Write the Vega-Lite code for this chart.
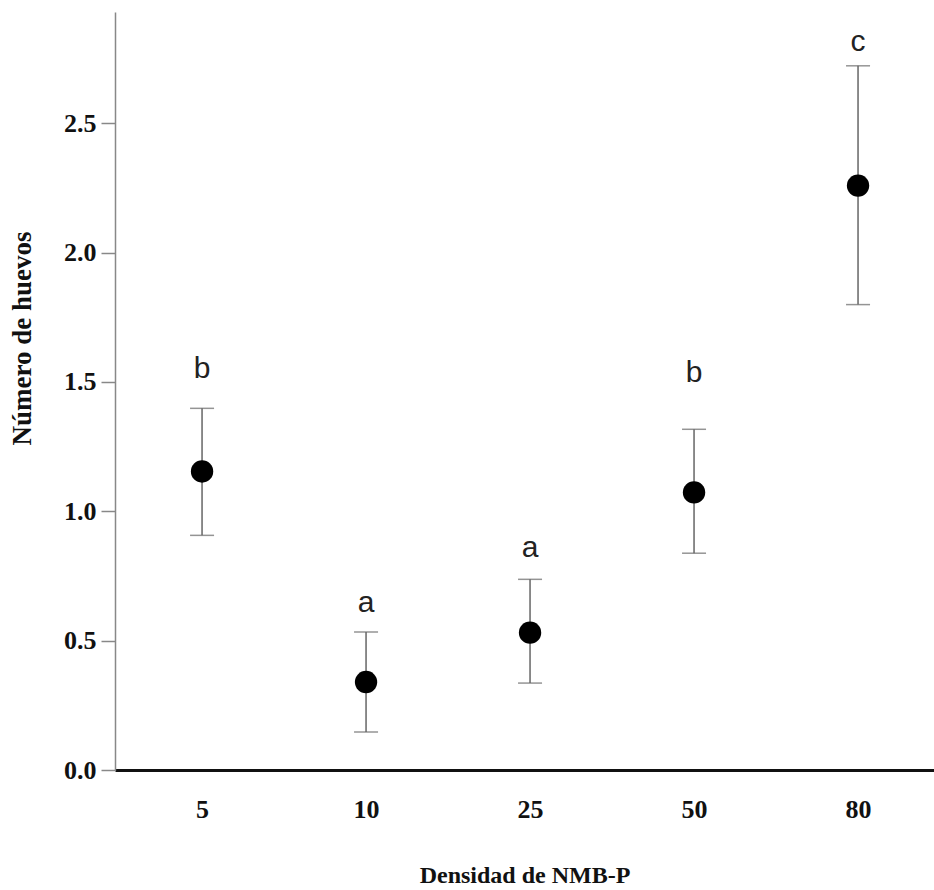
{
  "$schema": "https://vega.github.io/schema/vega-lite/v6.json",
  "width": 819,
  "height": 758,
  "autosize": {"type": "none"},
  "padding": {"left": 115, "top": 12, "right": 0, "bottom": 120},
  "background": "white",
  "config": {"view": {"stroke": null}},
  "data": {
    "values": [
      {"densidad": "5", "media": 1.154, "sup": 1.398, "inf": 0.907, "letra": "b", "pos_letra": 1.55},
      {"densidad": "10", "media": 0.340, "sup": 0.533, "inf": 0.147, "letra": "a", "pos_letra": 0.645},
      {"densidad": "25", "media": 0.531, "sup": 0.737, "inf": 0.336, "letra": "a", "pos_letra": 0.858},
      {"densidad": "50", "media": 1.073, "sup": 1.317, "inf": 0.838, "letra": "b", "pos_letra": 1.535},
      {"densidad": "80", "media": 2.259, "sup": 2.722, "inf": 1.799, "letra": "c", "pos_letra": 2.814}
    ]
  },
  "encoding": {
    "x": {
      "field": "densidad",
      "type": "ordinal",
      "sort": ["5", "10", "25", "50", "80"],
      "scale": {"type": "point", "padding": 0.497, "align": 0.534},
      "axis": {
        "title": "Densidad de NMB-P",
        "labelAngle": 0,
        "ticks": false,
        "labelPadding": 26,
        "labelFont": "Liberation Serif",
        "labelFontSize": 26,
        "labelFontWeight": "bold",
        "labelColor": "#111",
        "titleFont": "Liberation Serif",
        "titleFontSize": 24,
        "titleFontWeight": "bold",
        "titleColor": "#111",
        "titlePadding": 41,
        "domainColor": "#111",
        "domainWidth": 3,
        "grid": false
      }
    }
  },
  "layer": [
    {
      "mark": {"type": "rule", "color": "#666", "strokeWidth": 1.5},
      "encoding": {
        "y": {
          "field": "inf",
          "type": "quantitative",
          "scale": {"domain": [0, 2.93], "nice": false, "zero": false},
          "axis": {
            "title": "Número de huevos",
            "values": [0, 0.5, 1, 1.5, 2, 2.5],
            "format": ".1f",
            "grid": false,
            "tickSize": 14,
            "tickColor": "#888",
            "tickWidth": 1.5,
            "domainColor": "#888",
            "domainWidth": 1.5,
            "labelPadding": 5,
            "labelFont": "Liberation Serif",
            "labelFontSize": 26,
            "labelFontWeight": "bold",
            "labelColor": "#111",
            "titleFont": "Liberation Serif",
            "titleFontSize": 27,
            "titleFontWeight": "bold",
            "titleColor": "#111",
            "titleAngle": -90,
            "titleX": -93,
            "titleY": 326,
            "titleAlign": "center",
            "titleBaseline": "middle"
          }
        },
        "y2": {"field": "sup"}
      }
    },
    {
      "mark": {"type": "tick", "color": "#666", "thickness": 1.5, "size": 24, "orient": "horizontal"},
      "encoding": {"y": {"field": "sup", "type": "quantitative"}}
    },
    {
      "mark": {"type": "tick", "color": "#666", "thickness": 1.5, "size": 24, "orient": "horizontal"},
      "encoding": {"y": {"field": "inf", "type": "quantitative"}}
    },
    {
      "mark": {"type": "point", "shape": "circle", "filled": true, "color": "#000", "opacity": 1, "size": 500},
      "encoding": {"y": {"field": "media", "type": "quantitative"}}
    },
    {
      "mark": {"type": "text", "font": "Liberation Sans", "fontSize": 30, "color": "#222", "baseline": "middle", "align": "center"},
      "encoding": {
        "y": {"field": "pos_letra", "type": "quantitative"},
        "text": {"field": "letra"}
      }
    }
  ]
}
